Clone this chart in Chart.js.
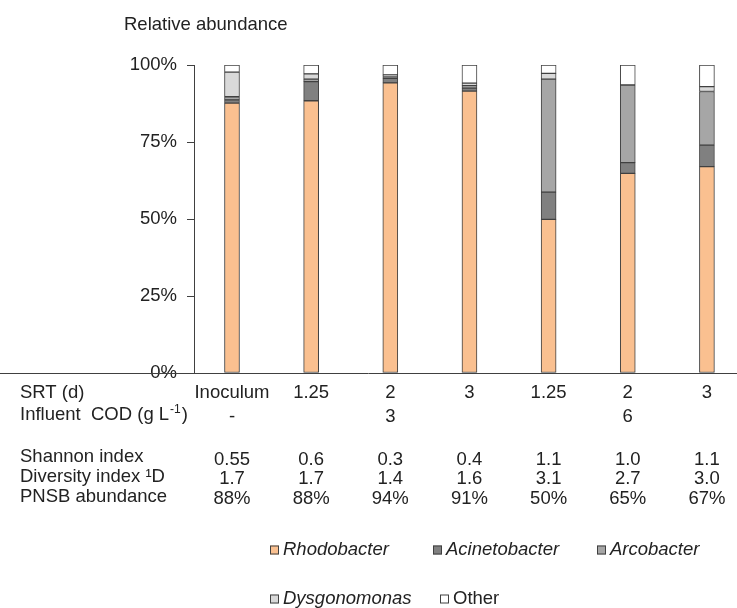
<!DOCTYPE html>
<html>
<head>
<meta charset="utf-8">
<title>Relative abundance</title>
<script src="https://cdn.jsdelivr.net/npm/chart.js@4.4.1/dist/chart.umd.min.js"></script>
<style>
  html, body { margin: 0; padding: 0; background: #fff; }
  #wrap { position: relative; width: 737px; height: 608px; }
</style>
</head>
<body>
<div id="wrap"><canvas id="chart" width="737" height="608"></canvas></div>
<script>
// table under the bars
const srt = ['Inoculum', '1.25', '2', '3', '1.25', '2', '3'];
const influentCod = ['-', '', '3', '', '', '6', ''];
const shannon = ['0.55', '0.6', '0.3', '0.4', '1.1', '1.0', '1.1'];
const diversity = ['1.7', '1.7', '1.4', '1.6', '3.1', '2.7', '3.0'];
const pnsb = ['88%', '88%', '94%', '91%', '50%', '65%', '67%'];

// relative abundance (%)
const rhodobacter = [87.6, 88.4, 94.2, 91.5, 49.9, 64.8, 67.0];
const acinetobacter = [1.1, 6.2, 1.5, 1.0, 8.8, 3.5, 7.0];
const arcobacter = [1.0, 0.8, 0.8, 0.8, 36.7, 25.2, 17.4];
const dysgonomonas = [8.0, 1.7, 0.3, 0.8, 1.9, 0, 1.6];
const other = [2.3, 2.9, 3.2, 5.9, 2.7, 6.5, 7.0];

const yTicks = [0, 25, 50, 75, 100];

const FONT = "'Liberation Sans', Arial, sans-serif";
const TEXT = '#222222';
const LINE = '#404040';

const font = (size, style = '') => `${style} ${size}px ${FONT}`.trim();
const toPoints = arr => arr.map((v, i) => ({ x: i, y: v }));

const series = [
  { label: 'Rhodobacter', data: rhodobacter, color: '#fac090', italic: true },
  { label: 'Acinetobacter', data: acinetobacter, color: '#808080', italic: true },
  { label: 'Arcobacter', data: arcobacter, color: '#a6a6a6', italic: true },
  { label: 'Dysgonomonas', data: dysgonomonas, color: '#d9d9d9', italic: true },
  { label: 'Other', data: other, color: '#ffffff', italic: false }
];

// legend slots (x of box, y of row)
const legendSlots = [[270, 550], [433, 550], [597, 550], [270, 599], [440, 599]];

const tablePlugin = {
  id: 'tableText',
  afterDraw(chart) {
    const { ctx, scales: { x, y } } = chart;
    const base = Math.round(y.getPixelForValue(0));
    ctx.save();

    // baseline runs across the whole sheet
    ctx.strokeStyle = LINE;
    ctx.lineWidth = 1;
    ctx.beginPath();
    ctx.moveTo(0, base + 0.5);
    ctx.lineTo(chart.width, base + 0.5);
    ctx.stroke();

    ctx.fillStyle = TEXT;
    ctx.textBaseline = 'middle';
    ctx.font = font(18.5);
    ctx.textAlign = 'left';
    ctx.fillText('Relative abundance', 124, 25);

    // row headers
    ctx.fillText('SRT (d)', 20, base + 20);
    const codText = 'Influent  COD (g L';
    ctx.fillText(codText, 20, base + 42);
    let cx = 20 + ctx.measureText(codText).width;
    ctx.font = font(12);
    ctx.fillText('-1', cx + 1, base + 37);
    cx += ctx.measureText('-1').width + 2;
    ctx.font = font(18.5);
    ctx.fillText(')', cx, base + 42);

    ctx.fillText('Shannon index', 20, base + 84);
    ctx.fillText('Diversity index \u00b9D', 20, base + 104);
    ctx.fillText('PNSB abundance', 20, base + 124);

    // values under each bar
    ctx.textAlign = 'center';
    const rows = [[srt, 20], [influentCod, 44], [shannon, 87], [diversity, 106], [pnsb, 126]];
    rows.forEach(([vals, dy]) => {
      vals.forEach((v, i) => {
        if (v) ctx.fillText(v, x.getPixelForValue(i), base + dy);
      });
    });

    // legend
    ctx.textAlign = 'left';
    series.forEach((s, i) => {
      const [lx, ly] = legendSlots[i];
      ctx.fillStyle = s.color;
      ctx.fillRect(lx, ly - 4.5, 9, 9);
      ctx.strokeStyle = LINE;
      ctx.strokeRect(lx + 0.5, ly - 4, 8, 8);
      ctx.fillStyle = TEXT;
      ctx.font = font(18.5, s.italic ? 'italic' : '');
      ctx.fillText(s.label, lx + 13, ly);
    });

    ctx.restore();
  }
};

new Chart(document.getElementById('chart'), {
  type: 'bar',
  data: {
    datasets: series.map(s => ({
      label: s.label,
      data: toPoints(s.data),
      backgroundColor: s.color,
      borderColor: LINE,
      borderWidth: 1,
      borderSkipped: false,
      barThickness: 15
    }))
  },
  options: {
    responsive: false,
    animation: false,
    devicePixelRatio: 1,
    layout: { padding: { top: 65, bottom: 235, left: 0, right: 0 } },
    plugins: {
      legend: { display: false },
      tooltip: { enabled: false },
      title: { display: false }
    },
    scales: {
      x: {
        type: 'linear',
        stacked: true,
        offset: false,
        min: -0.48,
        max: 6.38,
        display: false
      },
      y: {
        stacked: true,
        min: 0,
        max: 100,
        afterFit: s => { s.width = 194; },
        afterBuildTicks: s => { s.ticks = yTicks.map(v => ({ value: v })); },
        grid: { drawOnChartArea: false, drawTicks: true, tickLength: 7, color: LINE },
        border: { color: LINE },
        ticks: {
          padding: 10,
          color: TEXT,
          font: { family: FONT, size: 18.5 },
          callback: v => v + '%'
        }
      }
    }
  },
  plugins: [tablePlugin]
});
</script>
</body>
</html>
